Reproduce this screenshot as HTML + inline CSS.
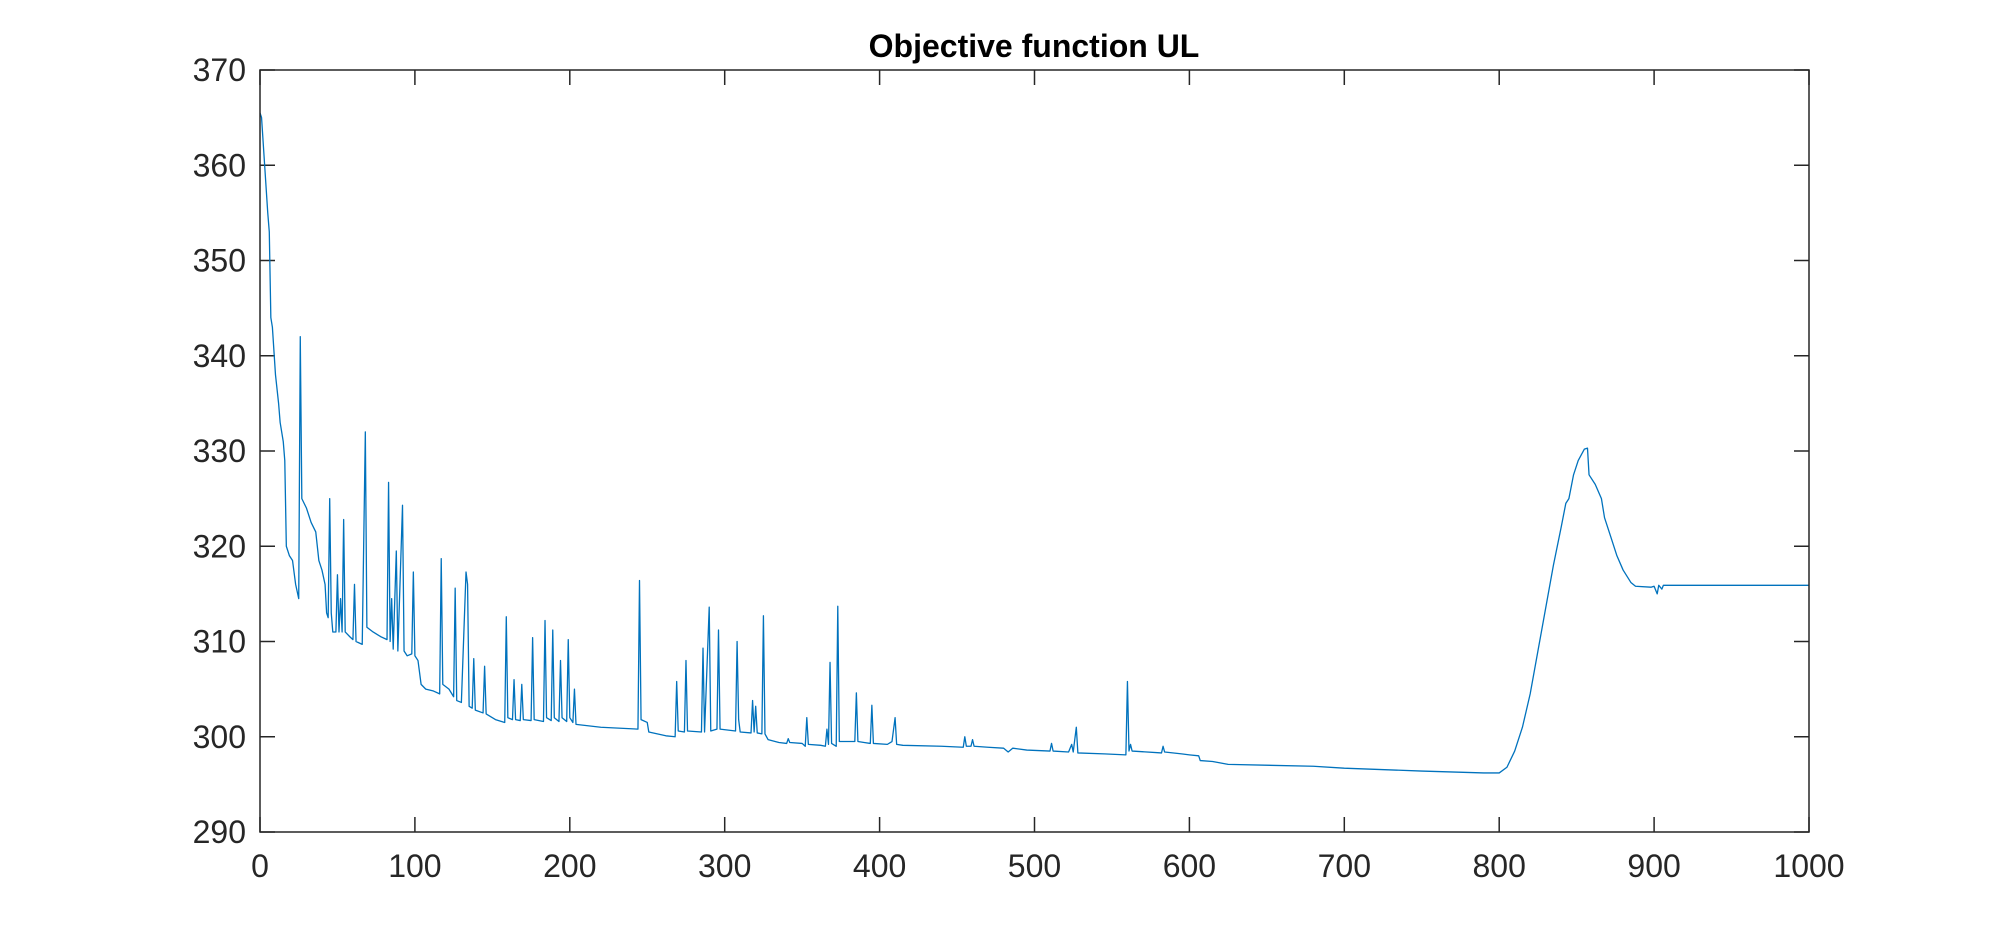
<!DOCTYPE html>
<html><head><meta charset="utf-8"><style>
body{margin:0;background:#fff}
svg{display:block}
text{font-family:"Liberation Sans",Arial,sans-serif;fill:#262626}
</style></head><body>
<svg id="chart" width="2000" height="936" viewBox="0 0 2000 936">
<rect width="2000" height="936" fill="#fff"/>
<text x="1034" y="57" text-anchor="middle" font-size="32" font-weight="bold" style="fill:#000">Objective function UL</text>
<g id="ticks"></g>
<path id="series" fill="none" stroke="#0072BD" stroke-width="1.3" stroke-linejoin="round"/>
<rect x="260" y="70" width="1549" height="762" fill="none" stroke="#262626" stroke-width="1.5"/>
</svg>
<script>
const xTicks=[0,100,200,300,400,500,600,700,800,900,1000];
const yTicks=[290,300,310,320,330,340,350,360,370];
const iterX=[0,1,3,5,6,7,8,10,12,13,15,16,17,19,21,23,25,26,27,30,33,36,38,40,42,43,44,45,46,47,49,50,51,52,53,54,55,58,60,61,62,66,68,69,73,78,82,83,84,85,86,88,89,92,93,95,98,99,100,102,104,107,112,116,117,118,122,125,126,127,130,133,134,135,137,138,139,144,145,146,152,158,159,160,163,164,165,168,169,170,175,176,177,183,184,185,188,189,190,193,194,195,198,199,200,202,203,204,220,244,245,246,250,251,262,268,269,270,274,275,276,285,286,287,290,291,295,296,297,307,308,309,310,317,318,319,320,321,324,325,326,328,335,340,341,342,350,352,353,354,362,365,366,367,368,369,372,373,374,384,385,386,390,394,395,396,405,408,410,411,415,440,454,455,456,459,460,461,470,480,483,486,495,510,511,512,522,524,525,527,528,545,559,560,561,562,563,582,583,584,595,600,606,607,615,625,680,700,750,790,800,805,810,815,820,825,830,835,840,843,845,848,851,855,857,858,862,866,868,872,876,880,885,888,898,900,902,903,905,906,1000];
const objVal=[365.5,365,360,355,353,344,343,338,335,333,331,329,320,319,318.5,316,314.5,342,325,324,322.5,321.5,318.5,317.5,316,313,312.5,325,313,311,311,317,311,314.5,311,322.8,311,310.5,310.2,316,310,309.7,332,311.5,311,310.5,310.2,326.7,310,314.5,309.2,319.5,309,324.3,309,308.5,308.7,317.3,308.5,308,305.5,305,304.8,304.5,318.7,305.5,305,304.2,315.6,303.8,303.6,317.3,316,303.2,303,308.2,302.8,302.5,307.4,302.4,301.8,301.5,312.6,302,301.8,306,301.8,301.7,305.5,301.8,301.7,310.4,301.8,301.6,312.2,302,301.7,311.2,302,301.6,308,302,301.6,310.2,302,301.5,305,301.3,301,300.8,316.4,301.8,301.5,300.5,300.1,300,305.8,300.6,300.5,308,300.6,300.5,309.3,300.5,313.6,300.6,300.8,311.2,300.8,300.6,310,301.8,300.5,300.4,303.8,300.5,303.2,300.4,300.3,312.7,300.3,299.7,299.4,299.3,299.8,299.4,299.3,299,302,299.2,299.1,299,300.8,299.2,307.8,299.3,299,313.7,299.5,299.5,304.6,299.5,299.4,299.3,303.3,299.3,299.2,299.5,302,299.2,299.1,299,298.9,300,299,299,299.7,299,298.9,298.8,298.4,298.8,298.6,298.5,299.3,298.5,298.4,299.2,298.4,301,298.3,298.2,298.1,305.8,298.5,299.2,298.5,298.3,299,298.4,298.2,298.1,298,297.5,297.4,297.1,296.9,296.7,296.4,296.2,296.2,296.8,298.5,301,304.5,309,313.5,318,322,324.5,325,327.5,329,330.2,330.3,327.5,326.5,325,323,321,319,317.5,316.2,315.8,315.7,315.8,315,315.9,315.5,315.9,315.9];

const L=260,R=1809,T=70,B=832;
const xS=v=>L+(v-0)/(1000-0)*(R-L);
const yS=v=>B-(v-290)/(370-290)*(B-T);
const NS='http://www.w3.org/2000/svg';
const g=document.getElementById('ticks');
function mk(tag,attrs){const e=document.createElementNS(NS,tag);for(const k in attrs)e.setAttribute(k,attrs[k]);g.appendChild(e);return e;}
xTicks.forEach(v=>{
  const x=xS(v);
  const t1=mk('line',{x1:x,x2:x,y1:B,y2:B-15,stroke:'#262626','stroke-width':1.5});
  
  
  const t2=mk('line',{x1:x,x2:x,y1:T,y2:T+15,stroke:'#262626','stroke-width':1.5});
  
  
  const tx=mk('text',{x:x,y:877,'text-anchor':'middle','font-size':32});
  tx.textContent=v;
  
  
});
yTicks.forEach(v=>{
  const y=yS(v);
  const t1=mk('line',{x1:L,x2:L+15,y1:y,y2:y,stroke:'#262626','stroke-width':1.5});
  
  
  const t2=mk('line',{x1:R,x2:R-15,y1:y,y2:y,stroke:'#262626','stroke-width':1.5});
  
  
  const tx=mk('text',{x:246,y:y+11,'text-anchor':'end','font-size':32});
  tx.textContent=v;
  
  
});
let d='';
iterX.forEach((v,i)=>{d+=(i?'L':'M')+xS(v).toFixed(2)+' '+yS(objVal[i]).toFixed(2);});
document.getElementById('series').setAttribute('d',d);
</script>
</body></html>
